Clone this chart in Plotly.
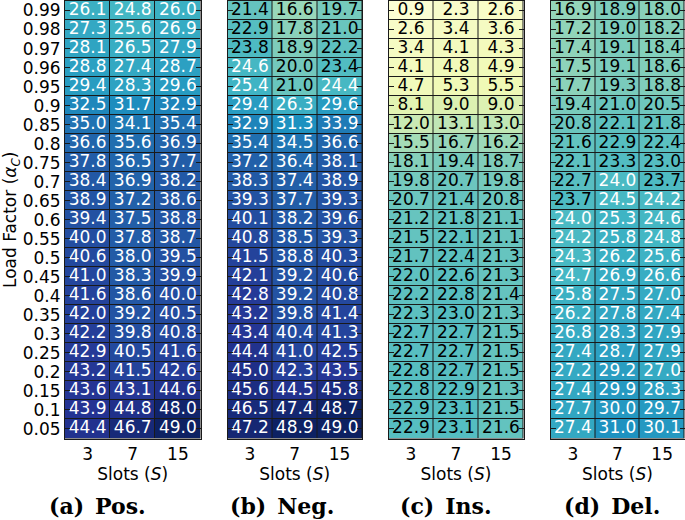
import plotly.graph_objects as go

slots = ["3", "7", "15"]
load_factors = ["0.99", "0.98", "0.97", "0.96", "0.95", "0.9", "0.85", "0.8", "0.75", "0.7",
                "0.65", "0.6", "0.55", "0.5", "0.45", "0.4", "0.35", "0.3", "0.25", "0.2",
                "0.15", "0.1", "0.05"]

pos = [[26.1, 24.8, 26.0], [27.3, 25.6, 26.9], [28.1, 26.5, 27.9], [28.8, 27.4, 28.7],
       [29.4, 28.3, 29.6], [32.5, 31.7, 32.9], [35.0, 34.1, 35.4], [36.6, 35.6, 36.9],
       [37.8, 36.5, 37.7], [38.4, 36.9, 38.2], [38.9, 37.2, 38.6], [39.4, 37.5, 38.8],
       [40.0, 37.8, 38.7], [40.6, 38.0, 39.5], [41.0, 38.3, 39.9], [41.6, 38.6, 40.0],
       [42.0, 39.2, 40.5], [42.2, 39.8, 40.8], [42.9, 40.5, 41.6], [43.2, 41.5, 42.6],
       [43.6, 43.1, 44.6], [43.9, 44.8, 48.0], [44.4, 46.7, 49.0]]
neg = [[21.4, 16.6, 19.7], [22.9, 17.8, 21.0], [23.8, 18.9, 22.2], [24.6, 20.0, 23.4],
       [25.4, 21.0, 24.4], [29.4, 26.3, 29.6], [32.9, 31.3, 33.9], [35.4, 34.5, 36.6],
       [37.2, 36.4, 38.1], [38.3, 37.4, 38.9], [39.3, 37.7, 39.3], [40.1, 38.2, 39.6],
       [40.8, 38.5, 39.3], [41.5, 38.8, 40.3], [42.1, 39.2, 40.6], [42.8, 39.2, 40.8],
       [43.2, 39.8, 41.4], [43.4, 40.4, 41.3], [44.4, 41.0, 42.5], [45.0, 42.3, 43.5],
       [45.6, 44.5, 45.8], [46.5, 47.4, 48.7], [47.2, 48.9, 49.0]]
ins = [[0.9, 2.3, 2.6], [2.6, 3.4, 3.6], [3.4, 4.1, 4.3], [4.1, 4.8, 4.9],
       [4.7, 5.3, 5.5], [8.1, 9.0, 9.0], [12.0, 13.1, 13.0], [15.5, 16.7, 16.2],
       [18.1, 19.4, 18.7], [19.8, 20.7, 19.8], [20.7, 21.4, 20.8], [21.2, 21.8, 21.1],
       [21.5, 22.1, 21.1], [21.7, 22.4, 21.3], [22.0, 22.6, 21.3], [22.2, 22.8, 21.4],
       [22.3, 23.0, 21.3], [22.7, 22.7, 21.5], [22.7, 22.7, 21.5], [22.8, 22.7, 21.5],
       [22.8, 22.9, 21.3], [22.9, 23.1, 21.5], [22.9, 23.1, 21.6]]
dele = [[16.9, 18.9, 18.0], [17.2, 19.0, 18.2], [17.4, 19.1, 18.4], [17.5, 19.1, 18.6],
        [17.7, 19.3, 18.8], [19.4, 21.0, 20.5], [20.8, 22.1, 21.8], [21.6, 22.9, 22.4],
        [22.1, 23.3, 23.0], [22.7, 24.0, 23.7], [23.7, 24.5, 24.2], [24.0, 25.3, 24.6],
        [24.2, 25.8, 24.8], [24.3, 26.2, 25.6], [24.7, 26.9, 26.6], [25.8, 27.5, 27.0],
        [26.2, 27.8, 27.4], [26.8, 28.3, 27.9], [27.4, 28.7, 27.9], [27.2, 29.2, 27.0],
        [27.4, 29.9, 28.3], [27.7, 30.0, 29.7], [27.4, 31.0, 30.1]]

panels = [pos, neg, ins, dele]
captions = ["(a)\u2002Pos.", "(b)\u2002Neg.", "(c)\u2002Ins.", "(d)\u2002Del."]

YLGNBU = [[0.0, "#ffffd9"], [0.125, "#edf8b1"], [0.25, "#c7e9b4"], [0.375, "#7fcdbb"],
          [0.5, "#41b6c4"], [0.625, "#1d91c0"], [0.75, "#225ea8"], [0.875, "#253494"],
          [1.0, "#081d58"]]
ZMIN, ZMAX = 0.0, 50.0
W, H = 685, 520
x_px = [(65, 200.5), (227.5, 362), (388.5, 523.5), (550.5, 684.5)]
cap_x_px = [98, 282, 446, 612]
y_top, y_bot = 1.0, 438.5

FONT = "DejaVu Sans"
fig = go.Figure()
for i, z in enumerate(panels):
    xa = "x" if i == 0 else f"x{i+1}"
    ya = "y" if i == 0 else f"y{i+1}"
    fig.add_trace(go.Heatmap(
        z=z, x=slots, y=load_factors, colorscale=YLGNBU, zmin=ZMIN, zmax=ZMAX,
        showscale=False, xgap=1, ygap=1, xaxis=xa, yaxis=ya, hoverinfo="skip"))
    xs, ys, txt, cols = [], [], [], []
    for r, lf in enumerate(load_factors):
        for c, s in enumerate(slots):
            v = z[r][c]
            xs.append(s); ys.append(lf); txt.append(f"{v:.1f}")
            cols.append("white" if v >= 24.0 else "black")
    fig.add_trace(go.Scatter(
        x=xs, y=ys, text=txt, mode="text", textposition="middle center",
        textfont=dict(family=FONT, size=17, color=cols),
        xaxis=xa, yaxis=ya, showlegend=False, hoverinfo="skip", cliponaxis=False))

    x0, x1 = x_px[i]
    xkey = "xaxis" if i == 0 else f"xaxis{i+1}"
    ykey = "yaxis" if i == 0 else f"yaxis{i+1}"
    fig.layout[xkey] = dict(
        domain=[x0 / W, x1 / W], anchor=ya, type="category",
        categoryorder="array", categoryarray=slots,
        range=[-0.5, len(slots) - 0.5], autorange=False,
        tickmode="array", tickvals=slots, ticktext=slots,
        showline=True, linecolor="#1a1a1a", linewidth=1, mirror=True,
        ticks="", showgrid=False, zeroline=False,
        tickfont=dict(family=FONT, size=17, color="black"),
        title=dict(text="Slots (<i>S</i>)", font=dict(family=FONT, size=17, color="black"),
                   standoff=4))
    fig.layout[ykey] = dict(
        domain=[1 - y_bot / H, 1 - y_top / H], anchor=xa, type="category",
        categoryorder="array", categoryarray=load_factors[::-1],
        range=[-0.5, len(load_factors) - 0.5], autorange=False,
        tickmode="array", tickvals=load_factors, ticktext=load_factors,
        showline=True, linecolor="#1a1a1a", linewidth=1, mirror="ticks",
        ticks="inside", ticklen=5, tickcolor="#1a1a1a", tickwidth=1,
        showgrid=False, zeroline=False, showticklabels=(i == 0),
        tickfont=dict(family=FONT, size=17, color="black"),
        title=dict(text="Load Factor (<i>α</i><sub><i>C</i></sub>)" if i == 0 else "",
                   font=dict(family=FONT, size=17, color="black"), standoff=6))
    fig.add_annotation(
        text=f"<b>{captions[i]}</b>", x=cap_x_px[i] / W, y=1 - 506 / H,
        xref="paper", yref="paper", showarrow=False, xanchor="center", yanchor="middle",
        font=dict(family="DejaVu Serif", size=22, color="black"))

fig.update_layout(
    width=W, height=H, margin=dict(l=0, r=0, t=0, b=0),
    paper_bgcolor="white", plot_bgcolor="#1a1a1a", showlegend=False)

fig.write_html("out.html", config={"displayModeBar": False},
               post_script="document.body.style.margin='0';document.body.style.overflow='hidden';")
